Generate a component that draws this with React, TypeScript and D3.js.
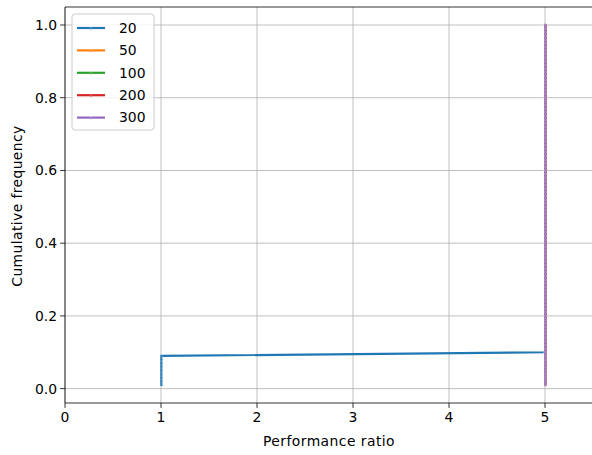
import React from "react";
import * as d3 from "d3";

// Series labels and colours
const seriesNames = ["20", "50", "100", "200", "300"];
const seriesColors = ["#1f77b4", "#ff7f0e", "#2ca02c", "#d62728", "#9467bd"];

// Performance ratios per series, as run-length groups (ratio, number of problems), sorted
const runs20 = [{ ratio: 1, count: 9 }, { ratio: 5, count: 91 }];
const runs50 = [{ ratio: 5, count: 100 }];
const runs100 = [{ ratio: 5, count: 100 }];
const runs200 = [{ ratio: 5, count: 100 }];
const runs300 = [{ ratio: 5, count: 100 }];
const allRuns = [runs20, runs50, runs100, runs200, runs300];

const xTicks = [0, 1, 2, 3, 4, 5];
const yTicks = [0.0, 0.2, 0.4, 0.6, 0.8, 1.0];

function toCdf(runs: { ratio: number; count: number }[]) {
  const ratios: number[] = [];
  runs.forEach((r) => {
    for (let i = 0; i < r.count; i++) ratios.push(r.ratio);
  });
  const n = ratios.length;
  return ratios.map((x, i) => ({ x, y: (i + 1) / n }));
}

export default function App() {
  const W = 592, H = 455;
  const left = 65, right = 593, top = 7, bottom = 403;
  const x = d3.scaleLinear().domain([0, 5.5]).range([left, right]);
  const y = d3.scaleLinear().domain([-0.0395, 1.0495]).range([bottom, top]);
  const line = d3.line<{ x: number; y: number }>().x((d) => x(d.x) + 0.3).y((d) => y(d.y));
  const data = allRuns.map(toCdf);
  const font = "DejaVu Sans, sans-serif";
  const legX = 72, legY = 14, rowH = 22.4;

  return (
    <svg width={W} height={H} style={{ position: "absolute", left: 0, top: 0, background: "#fff" }} fontFamily={font}>
      <rect x={0} y={0} width={W} height={H} fill="#fff" />
      <defs>
        <clipPath id="plotclip">
          <rect x={left} y={top} width={right - left} height={bottom - top} />
        </clipPath>
      </defs>
      {/* grid */}
      {xTicks.map((t) => (
        <line key={"gx" + t} x1={x(t)} x2={x(t)} y1={top} y2={bottom} stroke="#b0b0b0" strokeWidth={0.8} />
      ))}
      {yTicks.map((t) => (
        <line key={"gy" + t} x1={left} x2={right} y1={y(t)} y2={y(t)} stroke="#b0b0b0" strokeWidth={0.8} />
      ))}
      {/* series */}
      <g clipPath="url(#plotclip)">
        {data.map((pts, i) => (
          <g key={"s" + i}>
            <path d={line(pts) || ""} fill="none" stroke={seriesColors[i]} strokeWidth={2.2} strokeLinejoin="round" strokeLinecap="square" />
            {pts.map((p, j) => (
              <circle key={j} cx={x(p.x) + 0.3} cy={y(p.y)} r={1.2} fill={seriesColors[i]} stroke="#ffffff" strokeOpacity={0.4} strokeWidth={0.6} />
            ))}
          </g>
        ))}
      </g>
      {/* spines */}
      <line x1={left} x2={left} y1={top} y2={bottom} stroke="#000" strokeWidth={0.8} />
      <line x1={left} x2={right} y1={bottom} y2={bottom} stroke="#000" strokeWidth={0.8} />
      <line x1={left} x2={right} y1={top} y2={top} stroke="#000" strokeWidth={0.8} />
      {/* x ticks */}
      {xTicks.map((t) => (
        <g key={"xt" + t}>
          <line x1={x(t)} x2={x(t)} y1={bottom} y2={bottom + 4.9} stroke="#000" strokeWidth={0.8} />
          <text x={x(t)} y={bottom + 19} textAnchor="middle" fontSize={13.9} fill="#000">{t}</text>
        </g>
      ))}
      {/* y ticks */}
      {yTicks.map((t) => (
        <g key={"yt" + t}>
          <line x1={left - 4.9} x2={left} y1={y(t)} y2={y(t)} stroke="#000" strokeWidth={0.8} />
          <text x={left - 8} y={y(t)} dy="0.35em" textAnchor="end" fontSize={13.9} fill="#000">{t.toFixed(1)}</text>
        </g>
      ))}
      <text x={(left + right) / 2} y={445.5} textAnchor="middle" fontSize={13.9} letterSpacing={0.45} fill="#000">Performance ratio</text>
      <text transform={`translate(22, ${(top + bottom) / 2 + 1}) rotate(-90)`} textAnchor="middle" fontSize={13.9} letterSpacing={0.4} fill="#000">Cumulative frequency</text>
      {/* legend */}
      <rect x={legX} y={legY} width={82} height={116} rx={3} fill="#fff" fillOpacity={0.8} stroke="#cccccc" strokeWidth={1} />
      {seriesNames.map((name, i) => {
        const cy = legY + 14 + i * rowH;
        return (
          <g key={"lg" + i}>
            <line x1={legX + 5} x2={legX + 33} y1={cy} y2={cy} stroke={seriesColors[i]} strokeWidth={2.2} />
            <circle cx={legX + 19} cy={cy + 0.5} r={1.1} fill={seriesColors[i]} stroke="#fff" strokeOpacity={0.4} strokeWidth={0.5} />
            <text x={legX + 47} y={cy} dy="0.35em" fontSize={13.9} fill="#000">{name}</text>
          </g>
        );
      })}
    </svg>
  );
}
